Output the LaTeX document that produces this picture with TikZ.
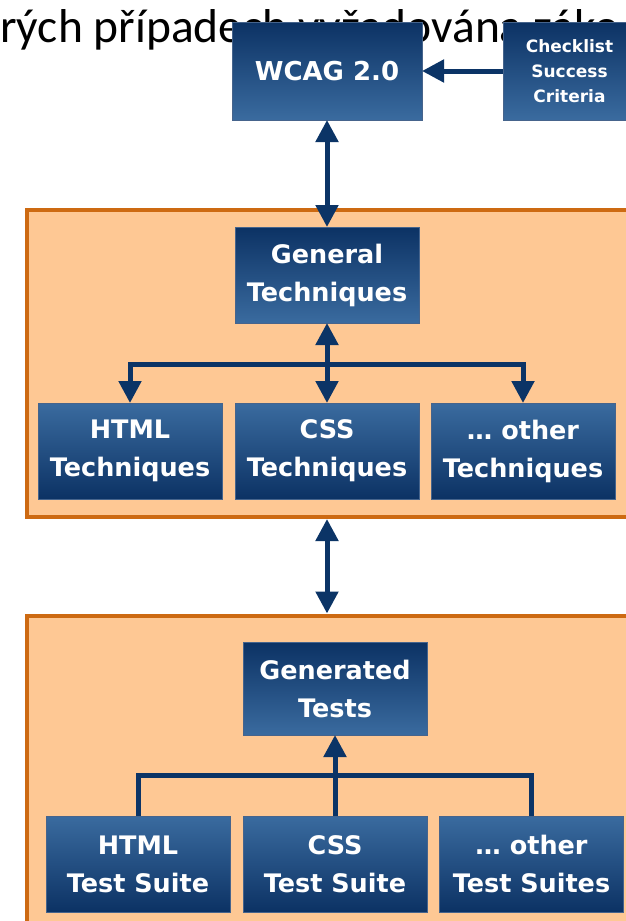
\documentclass[tikz,border=0pt]{standalone}
\usepackage{fontspec}
\setmainfont{Carlito}
\newfontfamily\boxfont{DejaVu Sans}
\usetikzlibrary{arrows.meta}

\definecolor{navy}{RGB}{12,50,100}
\definecolor{steel}{RGB}{58,107,159}
\definecolor{arrowblue}{RGB}{11,52,102}
\definecolor{peach}{RGB}{254,200,148}
\definecolor{rust}{RGB}{205,106,18}
\definecolor{boxedge}{RGB}{70,100,140}

\tikzset{
  blockdown/.style={rectangle, inner sep=0pt, outer sep=0pt, draw=boxedge,
    line width=0.8pt, top color=navy, bottom color=steel, text=white,
    align=center, minimum width=184pt, minimum height=96pt,
    font=\boxfont\bfseries\fontsize{25.5}{38}\selectfont},
  blockup/.style={blockdown, top color=steel, bottom color=navy},
  section/.style={rectangle, draw=rust, line width=4pt, fill=peach,
    inner sep=0pt, minimum width=613pt},
  link/.style={draw=arrowblue, line width=5pt},
  headed/.style={-{Triangle[width=22pt,length=22pt]}},
  twoheaded/.style={{Triangle[width=22pt,length=22pt]}-{Triangle[width=22pt,length=22pt]}},
}

\begin{document}
\begin{tikzpicture}[x=1pt, y=-1pt]
\useasboundingbox (0,0) rectangle (626,921);
\fill[white] (0,0) rectangle (626,921);

% slide text running behind the top boxes
\node[anchor=base west, inner sep=0pt, font=\fontsize{47.5}{50}\selectfont]
  (caption) at (0,42) {rých případech vyžadována záko};

% orange group panels
\node[section, minimum height=307pt] (tech) at (333.5,363.5) {};
\node[section, minimum height=340pt] (tests) at (333.5,785.5) {};

% top row
\node[blockdown, minimum width=190pt, minimum height=98pt,
  font=\boxfont\bfseries\fontsize{26}{30}\selectfont] (wcag) at (327,71) {WCAG 2.0};
\node[blockdown, minimum width=133pt, minimum height=98pt,
  font=\boxfont\bfseries\fontsize{17}{25}\selectfont] (check) at (569.5,71)
  {Checklist\\Success\\Criteria};

% techniques panel
\node[blockdown] (gen) at (327,275) {General\\Techniques};
\node[blockup] (html) at (130,451) {HTML\\Techniques};
\node[blockup] (css) at (327,451) {CSS\\Techniques};
\node[blockup] (other) at (523,451) {… other\\Techniques};

% tests panel
\node[blockdown, minimum height=93pt] (gent) at (335,688.5) {Generated\\Tests};
\node[blockup] (htmls) at (138,864) {HTML\\Test Suite};
\node[blockup] (csss) at (335,864) {CSS\\Test Suite};
\node[blockup] (others) at (531.5,864) {… other\\Test Suites};

% connectors
\draw[link, headed] (check.west) -- (wcag.east);
\draw[link, twoheaded] (wcag.south) -- (gen.north);
\draw[link, twoheaded] (gen.south) -- (css.north);
\coordinate (tj) at (327,364);
\draw[link, headed] (tj) -| (html.north);
\draw[link, headed] (tj) -| (other.north);
\draw[link, twoheaded] (tech.south -| gen.south) -- (tests.north -| gen.south);
\coordinate (bj) at (335,775);
\draw[link, headed] (csss.north) -- (gent.south);
\draw[link] (htmls.north) |- (bj) -| (others.north);
\end{tikzpicture}
\end{document}
